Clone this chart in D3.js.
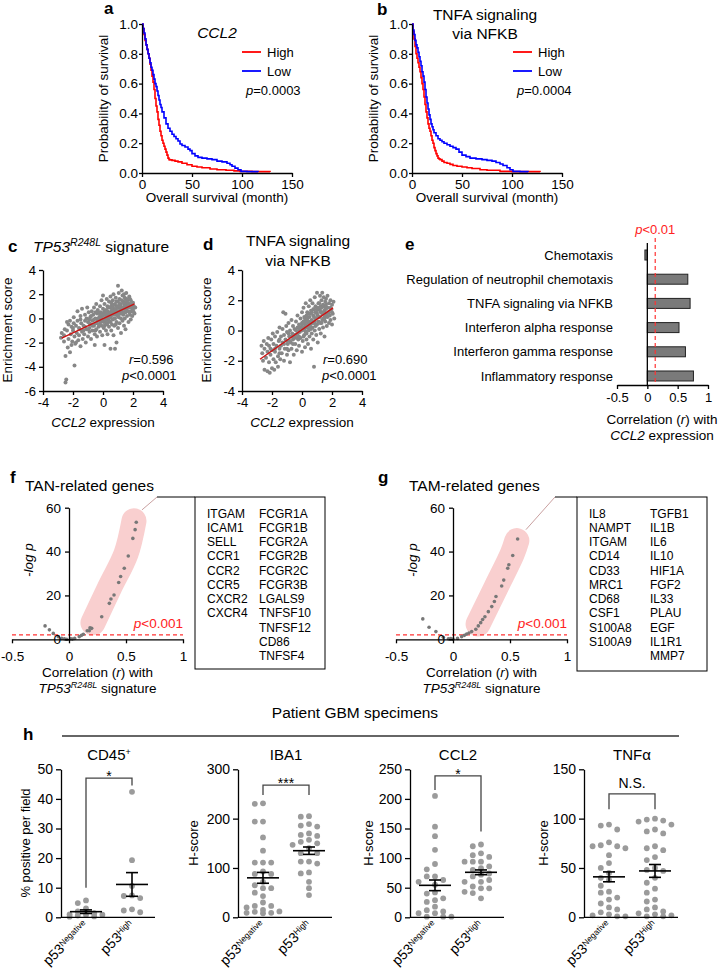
<!DOCTYPE html>
<html><head><meta charset="utf-8">
<script src="https://cdn.jsdelivr.net/npm/d3@7"></script>
<style>body{margin:0;background:#fff}svg{display:block}</style>
</head><body>
<svg id="chart" width="720" height="972"></svg>
<script>
// ================= DATA =================
// Panel a/b: Kaplan-Meier curves (time in months, survival probability)
const kmXTicks = [0, 50, 100, 150];
const kmYTicks = [0, 0.2, 0.4, 0.6, 0.8, 1.0];
const aHighT = [0,1,2,3,4,5,6,7,8,9,10,11,12,13,14,15,16,17,18,19,20,21,22,23,24,25,26,27,28,30,33,36,40,45,50,55,60,68,75,84,92,98,110,128];
const aHighS = [1,0.97,0.93,0.89,0.86,0.83,0.80,0.77,0.73,0.69,0.65,0.61,0.56,0.50,0.45,0.41,0.36,0.32,0.28,0.25,0.22,0.20,0.18,0.16,0.14,0.12,0.10,0.09,0.088,0.085,0.08,0.075,0.065,0.055,0.045,0.04,0.035,0.027,0.022,0.018,0.014,0.011,0.009,0.007];
const aLowT = [0,1,2,3,4,5,6,7,8,9,10,11,12,13,14,15,16,17,18,19,20,22,24,26,28,30,32,34,36,38,40,43,46,48,50,53,56,60,65,70,75,80,85,88,90,93,96,99,105,116];
const aLowS = [1,0.97,0.94,0.90,0.86,0.83,0.80,0.77,0.74,0.71,0.69,0.66,0.63,0.60,0.58,0.55,0.52,0.49,0.46,0.44,0.41,0.37,0.33,0.30,0.28,0.26,0.245,0.23,0.215,0.195,0.185,0.175,0.16,0.15,0.13,0.115,0.105,0.10,0.095,0.09,0.08,0.075,0.065,0.055,0.045,0.033,0.022,0.011,0.009,0.007];
const bHighT = [0,1,2,3,4,5,6,7,8,9,10,11,12,13,14,15,16,17,18,19,20,21,22,23,24,25,26,27,28,30,32,35,38,41,45,50,55,60,68,75,88,100,128];
const bHighS = [1,0.95,0.90,0.85,0.80,0.77,0.74,0.71,0.68,0.64,0.60,0.56,0.51,0.46,0.41,0.37,0.33,0.30,0.28,0.25,0.22,0.20,0.17,0.15,0.13,0.115,0.10,0.095,0.09,0.08,0.07,0.065,0.058,0.05,0.045,0.04,0.035,0.03,0.022,0.018,0.011,0.009,0.007];
const bLowT = [0,1,2,3,4,5,6,7,8,9,10,11,12,13,14,15,16,17,18,19,20,21,22,24,26,28,30,32,35,38,41,44,47,50,54,58,64,70,75,80,84,88,91,95,98,101,108,116];
const bLowS = [1,0.96,0.93,0.89,0.86,0.84,0.81,0.78,0.75,0.72,0.68,0.65,0.61,0.56,0.51,0.47,0.43,0.39,0.36,0.33,0.31,0.29,0.27,0.25,0.23,0.22,0.21,0.20,0.19,0.18,0.17,0.16,0.14,0.12,0.11,0.10,0.095,0.09,0.085,0.08,0.07,0.06,0.05,0.035,0.022,0.011,0.009,0.007];
const kmSeriesNames = ['High', 'Low'];
const kmPValues = ['0.0003', '0.0004'];

// Panel c/d: scatter (CCL2 expression, enrichment score)
const scatterXTicks = [-4, -2, 0, 2, 4];
const cYTicks = [-6, -4, -2, 0, 2, 4];
const dYTicks = [-4, -2, 0, 2, 4];
const cPoints = [[-2.8,-1.6],[-2.75,-1.2],[-2.6,-1.9],[-2.55,-0.9],[-2.5,-3.1],[-2.5,-5.3],[-2.45,-5.05],[-2.6,-1.4],
[-2.4,-1.0],[-2.35,-2.4],[-2.3,-1.7],[-2.4,-0.3],[-2.3,-0.5],[-2.2,-2.8],[-2.15,-1.3],[-2.1,-0.7],[-2.2,-0.2],[-2.05,-1.9],[-2.1,-2.2],
[-2.0,-1.0],[-1.95,-0.4],[-1.9,-3.9],[-1.9,-1.5],[-1.85,-2.1],[-1.95,0.1],[-2.0,-0.8],[-1.8,-0.6],[-1.75,-1.2],[-1.7,0.6],[-1.7,-0.2],[-1.65,-1.8],[-1.8,-2.0],[-1.6,-1.4],
[-1.55,-0.9],[-1.5,-2.3],[-1.5,0.2],[-1.45,-0.4],[-1.4,-1.1],[-1.4,0.8],[-1.35,-1.7],[-1.5,-0.1],[-1.3,-0.6],
[-1.25,-1.3],[-1.2,0.3],[-1.2,-0.7],[-1.15,-2.0],[-1.1,0.0],[-1.1,-0.9],[-1.05,0.9],[-1.0,-0.3],[-1.0,-1.5],[-1.2,-0.2],
[-0.95,0.5],[-0.9,-0.8],[-0.9,-1.1],[-0.85,0.1],[-0.8,-0.5],[-0.8,-1.7],[-0.75,0.6],[-0.7,-0.2],[-0.7,-1.0],[-0.65,0.3],[-0.9,-0.1],
[-0.6,-0.6],[-0.6,0.9],[-0.55,-2.2],[-0.55,-1.3],[-0.5,0.0],[-0.5,-0.4],[-0.45,1.2],[-0.45,-0.9],[-0.4,0.4],[-0.4,-1.5],[-0.35,-0.2],[-0.35,0.7],[-0.3,-0.7],
[-0.25,0.1],[-0.2,1.0],[-0.2,-1.1],[-0.15,-0.3],[-0.15,0.5],[-0.1,1.5],[-0.1,-0.6],[-0.05,0.2],[-0.05,-1.4],[0.0,0.8],[0.0,-0.1],[0.0,1.9],[-0.2,-0.5],
[0.05,-0.8],[0.1,0.4],[0.1,-2.2],[0.1,1.2],[0.15,-0.3],[0.15,0.0],[0.2,0.7],[0.2,-1.0],[0.25,1.6],[0.25,-0.5],[0.3,0.2],[0.3,1.0],[0.3,-1.3],[0.1,0.6],
[0.35,-0.1],[0.35,0.5],[0.4,1.4],[0.4,-0.7],[0.45,0.9],[0.45,0.1],[0.5,-2.5],[0.5,-0.3],[0.5,1.8],[0.55,0.6],[0.55,-1.0],[0.6,0.3],[0.6,1.1],[0.6,-0.5],[0.4,0.2],
[0.65,1.5],[0.65,-0.1],[0.7,0.8],[0.7,-1.4],[0.7,2.0],[0.75,0.4],[0.75,-0.6],[0.8,1.2],[0.8,-2.5],[0.8,0.0],[0.85,1.7],[0.85,0.7],[0.9,-2.0],[0.9,-0.3],[0.9,1.0],[0.95,0.3],[0.7,0.5],
[1.0,2.7],[1.0,1.4],[1.0,-0.8],[1.0,0.6],[1.05,0.1],[1.05,2.1],[1.1,0.9],[1.1,-0.4],[1.1,1.6],[1.15,0.4],[1.2,-1.2],[1.2,1.2],[1.2,0.0],[1.25,2.3],[1.25,0.7],[1.3,-0.2],[1.3,1.9],[1.3,0.9],
[1.35,0.3],[1.35,1.4],[1.4,-0.6],[1.4,2.0],[1.4,0.8],[1.45,1.1],[1.45,0.0],[1.5,1.6],[1.5,0.5],[1.5,-0.9],[1.55,1.3],[1.55,2.1],[1.6,0.2],[1.6,0.9],[1.65,1.5],[1.7,-0.3],[1.7,0.6],
[1.75,1.2],[1.75,1.8],[1.8,0.3],[1.8,0.9],[1.85,-0.1],[1.85,1.5],[1.9,0.6],[1.9,1.1],[1.95,0.2],[2.0,1.3],[2.0,0.7],[2.05,1.0],[2.1,0.4],[2.15,0.9],[1.8,1.6],
[-0.8,0.2],[-0.3,0.5],[0.2,0.1],[0.55,1.3],[0.95,0.9],[1.15,1.0],[1.45,1.7],[0.3,0.6],[-0.1,-0.2],[0.65,0.9],[1.6,1.2],[0.85,-0.5],[-0.5,-1.0],[0.0,0.4],[1.0,0.2],
[-1.0,-0.9],[-0.9,-0.4],[-0.7,-0.6],[-0.6,-0.1],[-0.4,-0.4],[-0.3,0.0],[-0.2,0.3],[-0.1,0.0],[0.0,0.3],[0.05,-0.3],[0.15,0.3],[0.2,-0.2],[0.25,0.4],[0.3,-0.4],[0.35,0.9],[0.45,0.4],[0.5,0.1],[0.55,1.0],[0.6,0.7],[0.65,0.3],[0.7,1.1],[0.75,0.0],[0.8,0.7],[0.85,0.3],[0.9,1.4],[0.95,0.6],[1.0,1.0],[1.05,0.4],[1.1,1.2],[1.15,0.7],[1.2,0.4],[1.25,1.5],[1.3,0.5],[1.35,0.9],[1.4,1.3],[1.45,0.5],[1.5,1.0],[1.55,0.7],[1.6,1.6],[1.65,0.9],[1.7,1.2],[1.75,0.5],[1.85,1.2],[1.95,0.8],[2.05,0.5],[-1.3,-1.0],[-1.6,-0.8],[-0.5,0.5],[0.1,-0.6],[0.4,-0.2]];
const cFitX = [-2.75, 2.1], cFitY = [-1.63, 1.2];
const dPoints = [[-2.7,-1.0],[-2.65,-1.5],[-2.6,-2.0],[-2.55,-0.7],[-2.5,-2.6],[-2.5,-1.2],
[-2.4,-1.8],[-2.35,-0.9],[-2.3,-2.7],[-2.3,-1.4],[-2.25,-0.5],[-2.2,-2.1],[-2.2,-1.0],[-2.15,-2.8],[-2.1,-1.6],
[-2.05,-0.6],[-2.0,-2.5],[-2.0,-1.3],[-1.95,-0.2],[-1.9,-1.9],[-1.9,-0.9],[-1.85,-2.6],[-1.8,-1.4],[-1.8,-0.4],[-1.75,-2.1],
[-1.7,-1.0],[-1.65,-0.1],[-1.6,-1.7],[-1.6,-2.4],[-1.55,-0.7],[-1.5,-1.2],[-1.5,0.2],[-1.45,-1.9],[-1.4,-0.4],[-1.4,-1.0],
[-1.35,-1.5],[-1.3,0.1],[-1.3,-0.8],[-1.25,1.2],[-1.2,-2.0],[-1.2,-0.3],[-1.15,-1.2],[-1.1,1.1],[-1.1,-0.6],[-1.05,0.3],[-1.0,-1.6],[-1.0,-0.1],
[-0.95,-0.9],[-0.9,0.5],[-0.9,-1.3],[-0.85,-0.4],[-0.8,0.0],[-0.8,-2.1],[-0.75,-0.8],[-0.7,0.7],[-0.7,-1.2],[-0.65,-0.2],[-0.6,0.3],[-0.6,-0.6],[-0.55,-1.6],[-0.5,0.1],
[-0.45,-0.9],[-0.4,0.6],[-0.4,-0.3],[-0.35,-1.3],[-0.3,0.2],[-0.3,1.0],[-0.25,-0.6],[-0.2,0.4],[-0.2,-1.0],[-0.15,-0.1],[-0.1,0.8],[-0.1,-0.5],[-0.05,0.2],[0.0,-1.4],[0.0,1.2],[0.0,0.0],[-0.3,-0.2],
[0.05,0.5],[0.05,-0.7],[0.1,1.5],[0.1,0.1],[0.15,-0.3],[0.15,0.9],[0.2,-1.1],[0.2,0.4],[0.25,1.8],[0.25,-0.1],[0.3,0.7],[0.3,-0.6],[0.35,1.2],[0.35,0.2],[0.4,-0.9],[0.4,0.5],[0.1,-0.4],
[0.45,1.6],[0.45,0.0],[0.5,0.9],[0.5,-0.4],[0.55,2.0],[0.55,0.4],[0.6,1.3],[0.6,-1.2],[0.65,0.7],[0.65,-0.2],[0.7,1.8],[0.7,0.2],[0.75,1.0],[0.75,-0.6],[0.8,-2.4],[0.8,1.4],[0.8,0.5],[0.6,0.1],
[0.85,2.2],[0.85,0.0],[0.9,0.8],[0.9,1.6],[0.95,-0.3],[0.95,1.2],[1.0,0.4],[1.0,2.5],[1.05,1.0],[1.05,-0.8],[1.1,1.8],[1.1,0.6],[1.15,0.1],[1.15,1.4],[1.2,2.3],[1.2,0.9],[1.25,-0.2],[1.25,1.6],[1.3,0.5],[1.3,2.0],
[1.35,1.1],[1.35,2.5],[1.4,0.2],[1.4,1.7],[1.45,0.8],[1.45,2.2],[1.5,1.3],[1.5,-0.4],[1.55,1.9],[1.55,0.6],[1.6,1.0],[1.6,2.1],[1.65,0.3],[1.65,1.5],[1.7,0.9],[1.7,2.3],[1.75,1.2],[1.8,0.5],[1.8,1.8],[1.85,1.0],[1.9,2.0],[1.9,0.7],[1.95,1.4],[2.0,1.7],[2.0,0.4],[2.05,1.1],[2.1,1.9],[2.15,0.8],
[-0.5,-0.5],[-0.2,0.0],[0.2,0.8],[0.5,0.3],[0.9,0.3],[1.2,1.3],[-1.0,-0.7],[0.3,-0.2],[0.7,0.6],[1.5,0.9],[-0.7,-0.4],[0.0,0.5],[1.0,1.4],[-1.5,-0.6],[0.4,1.1],
[-1.2,-0.9],[-1.0,-1.2],[-0.8,-0.7],[-0.6,-0.9],[-0.5,-0.3],[-0.4,0.0],[-0.3,-0.5],[-0.2,-0.4],[-0.1,0.2],[0.0,0.4],[0.1,0.6],[0.15,0.2],[0.2,0.0],[0.25,0.6],[0.3,0.3],[0.35,0.8],[0.45,0.6],[0.5,0.2],[0.55,1.1],[0.6,0.6],[0.65,1.2],[0.7,0.5],[0.75,1.4],[0.8,0.9],[0.85,0.6],[0.9,1.2],[0.95,0.4],[1.0,1.1],[1.05,1.5],[1.1,0.9],[1.15,1.8],[1.2,0.5],[1.25,1.2],[1.3,1.5],[1.35,0.7],[1.4,1.2],[1.45,1.6],[1.5,0.8],[1.55,1.4],[1.6,1.7],[1.65,1.1],[1.7,1.5],[1.8,1.2],[1.9,1.5],[2.0,1.2],[-1.8,-1.2],[-1.5,-1.5],[-2.1,-1.2],[-0.9,-0.2],[0.3,1.0]];
const dFitX = [-2.8, 2.07], dFitY = [-1.9, 1.5];
const corrLabels = [['0.596','<0.0001'], ['0.690','<0.0001']];

// Panel e: correlation with CCL2 expression
const eCategories = ['Chemotaxis','Regulation of neutrophil chemotaxis','TNFA signaling via NFKB','Interferon alpha response','Interferon gamma response','Inflammatory response'];
const eValues = [-0.04, 0.667, 0.705, 0.522, 0.628, 0.76];
const eTicks = [-0.5, 0, 0.5, 1];
const eThreshold = 0.13;

// Panel f/g: -log p vs correlation
const volXTicks = [-0.5, 0, 0.5, 1];
const volYTicks = [0, 20, 40, 60];
const volThreshold = 2;
const fPoints = [[0.59,53.4],[0.58,50],[0.56,46],[0.52,38],[0.485,32.4],[0.453,28.6],[0.436,25.9],[0.395,20.2],[0.368,18.4],[0.354,16.4],[0.287,10.3],[0.199,5.0],[0.178,3.9],[0.184,5.2],[0.16,3.9],[0.126,2.3],[0.09,1.2],[0.05,0.4],[0.015,0.2],[-0.02,0],[-0.064,0.4],[-0.094,1.2],[-0.138,2.7],[-0.172,4.3],[-0.21,6.1],[0.03,0.1],[0.11,1.8],[-0.04,0.2]];
const fHighlight = [[0.21,7.5],[0.36,24],[0.5,39],[0.57,54]];
const fConnectorStart = [0.64, 59];
const fGenes1 = ['ITGAM','ICAM1','SELL','CCR1','CCR2','CCR5','CXCR2','CXCR4'];
const fGenes2 = ['FCGR1A','FCGR1B','FCGR2A','FCGR2B','FCGR2C','FCGR3B','LGALS9','TNFSF10','TNFSF12','CD86','TNFSF4'];
const gPoints = [[0.567,45.7],[0.524,38.2],[0.49,34],[0.48,32.4],[0.445,27],[0.427,24.3],[0.377,19.5],[0.363,17.2],[0.34,14.9],[0.31,12.6],[0.28,10.3],[0.243,7.6],[0.222,6.1],[0.2,4.6],[0.164,3.5],[0.12,2.4],[0.076,1.2],[0.04,0.4],[-0.04,0.2],[-0.085,0.9],[-0.15,3.5],[-0.21,5.5],[-0.265,9.3],[0.26,9.0],[0.14,2.9],[0.0,0.1],[-0.02,0.3],[0.1,1.8]];
const gHighlight = [[0.22,7],[0.38,24],[0.52,39],[0.56,45]];
const gConnectorStart = [0.64, 50];
const gGenes1 = ['IL8','NAMPT','ITGAM','CD14','CD33','MRC1','CD68','CSF1','S100A8','S100A9'];
const gGenes2 = ['TGFB1','IL1B','IL6','IL10','HIF1A','FGF2','IL33','PLAU','EGF','IL1R1','MMP7'];

// Panel h: patient GBM specimens
const hGroups = ['Negative', 'High'];
const cd45Neg = [4.8, 5.7, 3.0, 2.0, 1.4, 1.0, 0.6, 0.3, 0.2, 0.8, 0.9];
const cd45High = [42.4, 19.3, 10.6, 7.4, 7.2, 2.7, 2.3, 1.7, 6.5];
const cd45Mean = [1.9, 11.1], cd45Sem = [0.6, 4.0];
const iba1Neg = [230,231,194,194,162,135,111,111,111,93,88,88,72,59,59,43,23,20,23,11,9,9,30,15,12,50,65,8];
const iba1High = [205,204,184,186,189,165,170,167,150,153,157,147,130,140,130,109,113,113,91,89,72,59,45];
const iba1Mean = [80, 135], iba1Sem = [11, 7.5];
const ccl2Neg = [205,153,137,114,90,81,69,69,63,60,55,40,42,32,29,26,18,12,10,1,1,1,7,7];
const ccl2High = [120,123,105,108,102,94,94,94,86,83,80,72,74,69,60,63,60,49,52,49,41,43,32];
const ccl2Mean = [54, 76], ccl2Sem = [9, 4];
const tnfNeg = [93,94,89,76,73,72,72,70,63,55,50,45,40,38,32,26,25,20,18,14,10,8,5,3,2,1,1];
const tnfHigh = [100,99,98,97,94,89,87,85,72,70,68,61,58,50,48,47,40,35,29,25,18,16,10,8,6,4,3,2,1,1];
const tnfMean = [41, 47], tnfSem = [5, 6.5];
const cd45Ticks = [0,10,20,30,40,50], iba1Ticks = [0,100,200,300], ccl2Ticks = [0,50,100,150,200,250], tnfTicks = [0,50,100,150];

// ================= DRAWING =================
const FONT = '"Liberation Sans", Arial, Helvetica, sans-serif';
const svg = d3.select('#chart').attr('font-family', FONT);

function txt(x, y, s, o = {}) {
  const t = svg.append('text').attr('x', x).attr('y', y).text(s)
    .attr('font-size', o.size || 13).attr('fill', o.fill || '#000')
    .attr('text-anchor', o.anchor || 'start');
  if (o.italic) t.attr('font-style', 'italic');
  if (o.bold) t.attr('font-weight', 'bold');
  if (o.rotate != null) t.attr('transform', `rotate(${o.rotate},${x},${y})`);
  return t;
}
function rich(x, y, parts, o = {}) {
  const size = o.size || 13;
  const g = svg.append('g').attr('transform', `translate(${x},${y})` + (o.rotate != null ? ` rotate(${o.rotate})` : ''));
  const t = g.append('text').attr('x', 0).attr('y', 0).attr('font-size', size)
    .attr('fill', o.fill || '#000').attr('text-anchor', o.anchor || 'start');
  let shift = 0;
  parts.forEach(p => {
    const ts = t.append('tspan').text(p.t);
    if (p.i) ts.attr('font-style', 'italic');
    const target = p.sup ? -(o.supShift || size * 0.4) : 0;
    if (target !== shift) { ts.attr('dy', target - shift); shift = target; }
    if (p.sup) ts.attr('font-size', o.supSize || size * 0.65);
  });
  return t;
}
function styleAxis(g, size) {
  g.attr('font-family', FONT).attr('font-size', size);
  g.select('.domain').attr('stroke', '#000').attr('stroke-width', 1.3);
  g.selectAll('.tick line').attr('stroke', '#000').attr('stroke-width', 1.3);
  g.selectAll('.tick text').attr('fill', '#000');
}
const fmtPlain = d => String(d);

// ---------- panels a, b ----------
function kmPanel(o) {
  const x = d3.scaleLinear().domain([0, 150]).range([o.x0, o.x0 + 150]);
  const y = d3.scaleLinear().domain([0, 1]).range([173, 24]);
  const line = d3.line().x(d => x(d[0])).y(d => y(d[1])).curve(d3.curveStepAfter);
  o.series.forEach(s => {
    svg.append('path').datum(d3.zip(s.t, s.s)).attr('d', line)
      .attr('fill', 'none').attr('stroke', s.color).attr('stroke-width', 1.6);
  });
  styleAxis(svg.append('g').attr('transform', 'translate(0,173)')
    .call(d3.axisBottom(x).tickValues(kmXTicks).tickSize(4).tickPadding(2).tickSizeOuter(0)), 13.5);
  styleAxis(svg.append('g').attr('transform', `translate(${o.x0},0)`)
    .call(d3.axisLeft(y).tickValues(kmYTicks).tickFormat(d3.format('.1f')).tickSize(3).tickPadding(1).tickSizeOuter(0)), 13.5);
  txt(o.x0 - 34, 98.5, 'Probability of survival', { size: 13.5, anchor: 'middle', rotate: -90 });
  txt(o.x0 + 75, 202, 'Overall survival (month)', { size: 13.5, anchor: 'middle' });
  o.series.forEach((s, i) => {
    const ly = 52 + i * 19;
    svg.append('line').attr('x1', o.x0 + o.legX).attr('x2', o.x0 + o.legX + 19)
      .attr('y1', ly).attr('y2', ly).attr('stroke', s.color).attr('stroke-width', 1.8);
    txt(o.x0 + o.legX + 25, ly + 4.5, kmSeriesNames[i], { size: 13 });
  });
  rich(o.x0 + o.legX + 4, 95, [{ t: 'p', i: true }, { t: '=' + o.p }], { size: 13 });
}
kmPanel({ x0: 142, legX: 100, p: kmPValues[0], series: [
  { t: aHighT, s: aHighS, color: '#ff0000' }, { t: aLowT, s: aLowS, color: '#0000ff' }] });
kmPanel({ x0: 412, legX: 101, p: kmPValues[1], series: [
  { t: bHighT, s: bHighS, color: '#ff0000' }, { t: bLowT, s: bLowS, color: '#0000ff' }] });
txt(217, 38, 'CCL2', { size: 15.5, anchor: 'middle', italic: true });
txt(485, 20, 'TNFA signaling', { size: 15.5, anchor: 'middle' });
txt(485, 39, 'via NFKB', { size: 15.5, anchor: 'middle' });
txt(104, 14, 'a', { size: 17, bold: true });
txt(377, 15, 'b', { size: 17, bold: true });

// ---------- panels c, d ----------
function scatterPanel(o) {
  const x = d3.scaleLinear().domain([-4, 4]).range([o.x0, o.x0 + 120]);
  const y = d3.scaleLinear().domain(o.yDomain).range([391, 270]);
  svg.append('g').selectAll('circle').data(o.points).join('circle')
    .attr('cx', d => x(d[0])).attr('cy', d => y(d[1])).attr('r', 2.0).attr('fill', '#878787');
  svg.append('line').attr('x1', x(o.fitX[0])).attr('x2', x(o.fitX[1]))
    .attr('y1', y(o.fitY[0])).attr('y2', y(o.fitY[1])).attr('stroke', '#cc1111').attr('stroke-width', 1.4);
  styleAxis(svg.append('g').attr('transform', 'translate(0,391)')
    .call(d3.axisBottom(x).tickValues(scatterXTicks).tickFormat(fmtPlain).tickSize(4).tickPadding(3).tickSizeOuter(0)), 13);
  styleAxis(svg.append('g').attr('transform', `translate(${o.x0},0)`)
    .call(d3.axisLeft(y).tickValues(o.yTicks).tickFormat(fmtPlain).tickSize(4).tickPadding(3).tickSizeOuter(0)), 13);
  txt(o.x0 - 31, 330, 'Enrichment score', { size: 13.5, anchor: 'middle', rotate: -90 });
  rich(o.x0 + 60, 427, [{ t: 'CCL2', i: true }, { t: ' expression' }], { size: 13.5, anchor: 'middle' });
  rich(o.rX, 364, [{ t: 'r', i: true }, { t: '=' + o.corr[0] }], { size: 13 });
  rich(o.pX, 380, [{ t: 'p', i: true }, { t: o.corr[1] }], { size: 13 });
}
scatterPanel({ x0: 43, yDomain: [-6, 4], yTicks: cYTicks, points: cPoints, fitX: cFitX, fitY: cFitY, corr: corrLabels[0], rX: 129, pX: 122 });
scatterPanel({ x0: 242, yDomain: [-4, 4], yTicks: dYTicks, points: dPoints, fitX: dFitX, fitY: dFitY, corr: corrLabels[1], rX: 323, pX: 322 });
rich(33, 252, [{ t: 'TP53', i: true }, { t: 'R248L', i: true, sup: true }, { t: ' signature' }], { size: 15.5, supSize: 10.5, supShift: 6 });
txt(298, 246, 'TNFA signaling', { size: 15.5, anchor: 'middle' });
txt(298, 266, 'via NFKB', { size: 15.5, anchor: 'middle' });
txt(8, 252, 'c', { size: 17, bold: true });
txt(203, 250, 'd', { size: 17, bold: true });

// ---------- panel e ----------
(function () {
  const x = d3.scaleLinear().domain([-0.5, 1]).range([617, 708]);
  const y = d3.scaleBand().domain(eCategories).range([243, 388]).paddingInner(0.587).paddingOuter(0.29);
  svg.append('g').selectAll('rect').data(eCategories).join('rect')
    .attr('x', (d, i) => x(Math.min(0, eValues[i])))
    .attr('width', (d, i) => Math.abs(x(eValues[i]) - x(0)))
    .attr('y', d => y(d)).attr('height', y.bandwidth())
    .attr('fill', '#7a7a7a').attr('stroke', '#222').attr('stroke-width', 1);
  svg.append('g').selectAll('text').data(eCategories).join('text')
    .attr('x', 613).attr('y', d => y(d) + y.bandwidth() / 2 + 4.6)
    .attr('text-anchor', 'end').attr('font-size', 13).attr('fill', '#000').text(d => d);
  svg.append('line').attr('x1', x(0)).attr('x2', x(0)).attr('y1', 243).attr('y2', 385)
    .attr('stroke', '#000').attr('stroke-width', 1.3);
  svg.append('line').attr('x1', x(eThreshold)).attr('x2', x(eThreshold)).attr('y1', 238).attr('y2', 385)
    .attr('stroke', '#ff3333').attr('stroke-width', 1.2).attr('stroke-dasharray', '4,3');
  styleAxis(svg.append('g').attr('transform', 'translate(0,385)')
    .call(d3.axisBottom(x).tickValues(eTicks).tickFormat(fmtPlain).tickSize(4).tickPadding(4).tickSizeOuter(0)), 13);
  rich(x(eThreshold), 234, [{ t: 'p', i: true }, { t: '<0.01' }], { size: 13, anchor: 'middle', fill: '#ff2222' });
  rich(662, 424, [{ t: 'Correlation (' }, { t: 'r', i: true }, { t: ') with' }], { size: 13.5, anchor: 'middle' });
  rich(662, 440, [{ t: 'CCL2', i: true }, { t: ' expression' }], { size: 13.5, anchor: 'middle' });
  txt(405, 250, 'e', { size: 17, bold: true });
})();

// ---------- panels f, g ----------
function volcanoPanel(o) {
  const x = d3.scaleLinear().domain([-0.5, 1]).range([o.zero - 57, o.zero + 114]);
  const y = d3.scaleLinear().domain([0, 60]).range([639.3, 507.7]);
  const hl = d3.line().x(d => x(d[0])).y(d => y(d[1])).curve(d3.curveCatmullRom);
  svg.append('path').datum(o.highlight).attr('d', hl).attr('fill', 'none')
    .attr('stroke', '#f9cfcf').attr('stroke-width', 25).attr('stroke-linecap', 'round').attr('stroke-linejoin', 'round');
  svg.append('line').attr('x1', x(-0.5)).attr('x2', x(1)).attr('y1', y(volThreshold)).attr('y2', y(volThreshold))
    .attr('stroke', '#ff3333').attr('stroke-width', 1.2).attr('stroke-dasharray', '4,3');
  svg.append('g').selectAll('circle').data(o.points).join('circle')
    .attr('cx', d => x(d[0])).attr('cy', d => y(d[1])).attr('r', 1.8).attr('fill', '#777');
  styleAxis(svg.append('g').attr('transform', `translate(0,${y(0)})`)
    .call(d3.axisBottom(x).tickValues(volXTicks).tickFormat(fmtPlain).tickSize(4).tickPadding(8).tickSizeOuter(0)), 13.5);
  styleAxis(svg.append('g').attr('transform', `translate(${x(0)},0)`)
    .call(d3.axisLeft(y).tickValues(volYTicks).tickFormat(fmtPlain).tickSize(4).tickPadding(4).tickSizeOuter(0)), 13.5);
  rich(x(1), 628, [{ t: 'p', i: true }, { t: '<0.001' }], { size: 13.5, anchor: 'end', fill: '#ff2222' });
  txt(x(0) - 36, 560, '-log p', { size: 13.5, anchor: 'middle', italic: true, rotate: -90 });
  const cx = (x(-0.5) + x(1)) / 2;
  rich(cx, 677, [{ t: 'Correlation (' }, { t: 'r', i: true }, { t: ') with' }], { size: 13.5, anchor: 'middle' });
  rich(cx, 693, [{ t: 'TP53', i: true }, { t: 'R248L', i: true, sup: true }, { t: ' signature' }], { size: 13.5, anchor: 'middle', supSize: 9, supShift: 5 });
  // callout box with gene list
  const cs = [x(o.connector[0]), y(o.connector[1])];
  svg.append('path').attr('d', `M${cs[0]},${cs[1]}L${o.cornerX},497`)
    .attr('fill', 'none').attr('stroke', '#c9a0a0').attr('stroke-width', 1);
  svg.append('line').attr('x1', o.cornerX).attr('x2', o.boxX).attr('y1', 497).attr('y2', 497)
    .attr('stroke', '#000').attr('stroke-width', 1);
  svg.append('rect').attr('x', o.boxX).attr('y', 497).attr('width', o.boxW).attr('height', o.boxH)
    .attr('fill', 'none').attr('stroke', '#000').attr('stroke-width', 1);
  [o.genes1, o.genes2].forEach((list, c) => {
    svg.append('g').selectAll('text').data(list).join('text')
      .attr('x', o.boxX + o.colX[c]).attr('y', (d, i) => 517.5 + i * 14.27)
      .attr('font-size', 12).attr('fill', '#000').text(d => d);
  });
  txt(o.titleX, 491, o.title, { size: 15.5 });
}
volcanoPanel({ zero: 69, points: fPoints, highlight: fHighlight, connector: fConnectorStart, cornerX: 157, boxX: 195, boxW: 130, boxH: 172, colX: [12, 64], genes1: fGenes1, genes2: fGenes2, title: 'TAN-related genes', titleX: 25 });
volcanoPanel({ zero: 453, points: gPoints, highlight: gHighlight, connector: gConnectorStart, cornerX: 555, boxX: 577, boxW: 130, boxH: 174, colX: [12, 73], genes1: gGenes1, genes2: gGenes2, title: 'TAM-related genes', titleX: 409 });
txt(10, 483, 'f', { size: 17, bold: true });
txt(378, 483, 'g', { size: 17, bold: true });

// ---------- panel h ----------
txt(23, 740, 'h', { size: 17, bold: true });
txt(355, 718, 'Patient GBM specimens', { size: 15.5, anchor: 'middle' });
svg.append('line').attr('x1', 62).attr('x2', 679).attr('y1', 736).attr('y2', 736).attr('stroke', '#333').attr('stroke-width', 1.3);

function beeswarm(values, y, cx, step, minDist) {
  const placed = [];
  const order = values.map((v, i) => i).sort((a, b) => values[b] - values[a]);
  const out = new Array(values.length);
  const cands = [0, -1, 1, -2, 2];
  order.forEach(i => {
    const py = y(values[i]);
    let best = null, bestD = -1;
    for (const k of cands) {
      const px = cx + k * step;
      const dmin = placed.length ? d3.min(placed, p => Math.hypot(p[0] - px, p[1] - py)) : Infinity;
      if (dmin >= minDist) { best = px; break; }
      if (dmin > bestD + 0.5) { bestD = dmin; best = px; }
    }
    placed.push([best, py]); out[i] = [best, py];
  });
  return out;
}

function dotPanel(o) {
  const y = d3.scaleLinear().domain([0, o.max]).range([917.3, 769.3]);
  const x = d3.scalePoint().domain(hGroups).range([o.x0 + 25, o.x0 + 71]);
  [o.neg, o.high].forEach((vals, gi) => {
    const pos = beeswarm(vals, y, x(hGroups[gi]), 8.2, 6.4);
    svg.append('g').selectAll('circle').data(pos).join('circle')
      .attr('cx', d => d[0]).attr('cy', d => d[1]).attr('r', 2.9).attr('fill', '#9b9b9b');
  });
  hGroups.forEach((g, i) => {
    const cx = x(g), m = o.mean[i], s = o.sem[i];
    svg.append('line').attr('x1', cx - 16).attr('x2', cx + 16).attr('y1', y(m)).attr('y2', y(m)).attr('stroke', '#000').attr('stroke-width', 1.6);
    svg.append('line').attr('x1', cx).attr('x2', cx).attr('y1', y(m - s)).attr('y2', y(m + s)).attr('stroke', '#000').attr('stroke-width', 1.6);
    [m - s, m + s].forEach(v => svg.append('line').attr('x1', cx - 6).attr('x2', cx + 6).attr('y1', y(v)).attr('y2', y(v)).attr('stroke', '#000').attr('stroke-width', 1.6));
  });
  const ax = svg.append('g').attr('transform', `translate(${o.x0},0)`)
    .call(d3.axisLeft(y).tickValues(o.ticks).tickFormat(fmtPlain).tickSize(5).tickPadding(3).tickSizeOuter(0));
  styleAxis(ax, 14);
  svg.append('line').attr('x1', o.x0).attr('x2', o.x0 + 94).attr('y1', 917.3).attr('y2', 917.3).attr('stroke', '#000').attr('stroke-width', 1.3);
  // bracket
  const b = o.bracket;
  svg.append('path').attr('d', `M${x(hGroups[0])},${y(b[1])}V${y(b[0])}H${x(hGroups[1])}V${y(b[2])}`)
    .attr('fill', 'none').attr('stroke', '#444').attr('stroke-width', 1.3);
  txt((x(hGroups[0]) + x(hGroups[1])) / 2, y(b[0]) + (o.sig === 'N.S.' ? -6 : 3), o.sig, { size: 14, anchor: 'middle' });
  // titles
  rich(o.x0 + 48, 760, o.title, { size: 15, anchor: 'middle', supSize: 9, supShift: 5 });
  txt(o.yLabX, 843, o.yLab, { size: 13, anchor: 'middle', rotate: -90 });
  hGroups.forEach(g => {
    rich(x(g) + 3, 926, [{ t: 'p53' }, { t: g, sup: true }], { size: 14, anchor: 'end', rotate: -45, supSize: 8.5, supShift: 4 });
  });
}
dotPanel({ x0: 61, max: 50, ticks: cd45Ticks, neg: cd45Neg, high: cd45High, mean: cd45Mean, sem: cd45Sem, bracket: [47, 10, 44.5], sig: '*', title: [{ t: 'CD45' }, { t: '+', sup: true }], yLab: '% positive per field', yLabX: 30 });
dotPanel({ x0: 238, max: 300, ticks: iba1Ticks, neg: iba1Neg, high: iba1High, mean: iba1Mean, sem: iba1Sem, bracket: [268, 248, 248], sig: '***', title: [{ t: 'IBA1' }], yLab: 'H-score', yLabX: 198 });
dotPanel({ x0: 410, max: 250, ticks: ccl2Ticks, neg: ccl2Neg, high: ccl2High, mean: ccl2Mean, sem: ccl2Sem, bracket: [239, 215, 145], sig: '*', title: [{ t: 'CCL2' }], yLab: 'H-score', yLabX: 373 });
dotPanel({ x0: 584, max: 150, ticks: tnfTicks, neg: tnfNeg, high: tnfHigh, mean: tnfMean, sem: tnfSem, bracket: [125, 109.5, 109.5], sig: 'N.S.', title: [{ t: 'TNFα' }], yLab: 'H-score', yLabX: 548 });
</script>
</body></html>
